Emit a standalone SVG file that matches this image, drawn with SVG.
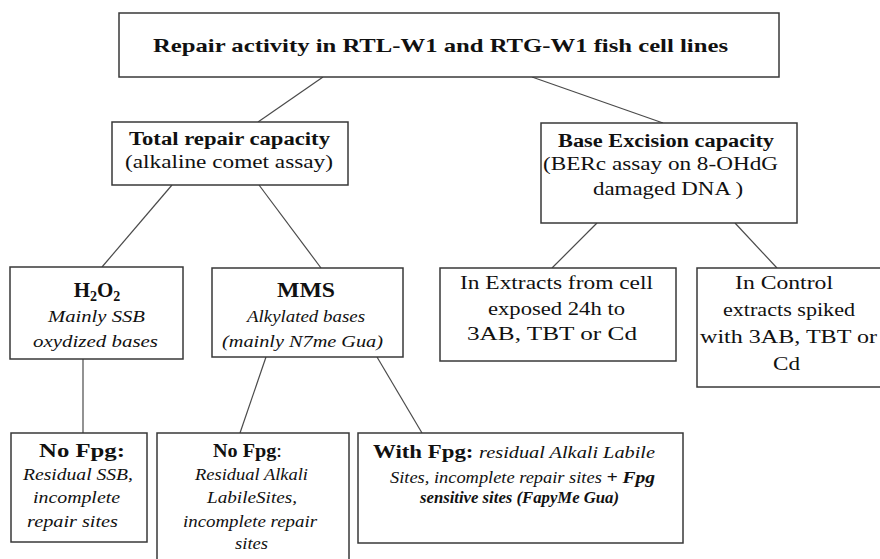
<svg xmlns="http://www.w3.org/2000/svg" width="880" height="559" viewBox="0 0 880 559">
  <style>
    .box { fill: #ffffff; stroke: #383838; stroke-width: 1.5; }
    .link { stroke: #4a4a4a; stroke-width: 1.2; fill: none; }
    text { font-family: "Liberation Serif", "Times New Roman", serif; fill: #111; text-anchor: middle; }
    .b { font-weight: bold; }
    .i { font-style: italic; }
    .t19 { font-size: 19px; }
    .t18 { font-size: 18px; }
    .t17 { font-size: 17px; }
    .t16 { font-size: 16px; }
  </style>
  <rect width="880" height="559" fill="#ffffff"/>

  <!-- tree connectors -->
  <g id="connectors">
    <line class="link" x1="323" y1="77" x2="258" y2="122"/>
    <line class="link" x1="532" y1="77" x2="663" y2="123"/>
    <line class="link" x1="172" y1="185" x2="102" y2="267"/>
    <line class="link" x1="259" y1="185" x2="321" y2="268"/>
    <line class="link" x1="597" y1="223" x2="552" y2="268"/>
    <line class="link" x1="735" y1="223" x2="777" y2="268"/>
    <line class="link" x1="83" y1="359" x2="83" y2="433"/>
    <line class="link" x1="266" y1="357" x2="240" y2="433"/>
    <line class="link" x1="377" y1="357" x2="422" y2="433"/>
  </g>

  <g id="root">
    <rect class="box" x="119" y="13" width="660" height="64"/>
    <text class="b t19" x="440.5" y="52" textLength="575" lengthAdjust="spacingAndGlyphs">Repair activity in RTL-W1 and RTG-W1 fish cell lines</text>
  </g>

  <g id="total-repair">
    <rect class="box" x="112" y="122" width="236" height="63"/>
    <text class="b t18" x="229.5" y="145" textLength="201" lengthAdjust="spacingAndGlyphs">Total repair capacity</text>
    <text class="t18" x="229" y="168" textLength="208" lengthAdjust="spacingAndGlyphs">(alkaline  comet assay)</text>
  </g>

  <g id="base-excision">
    <rect class="box" x="541" y="123" width="256" height="100"/>
    <text class="b t18" x="666" y="147" textLength="216" lengthAdjust="spacingAndGlyphs">Base Excision capacity</text>
    <text class="t18" x="660.5" y="170" textLength="235" lengthAdjust="spacingAndGlyphs">(BERc assay on 8-OHdG</text>
    <text class="t18" x="668" y="195" textLength="150" lengthAdjust="spacingAndGlyphs">damaged DNA )</text>
  </g>

  <g id="h2o2">
    <rect class="box" x="10" y="267" width="173" height="92"/>
    <text class="b" x="97" y="297" font-size="21">H<tspan font-size="14" dy="4">2</tspan><tspan dy="-4">O</tspan><tspan font-size="14" dy="4">2</tspan></text>
    <text class="i t17" x="96.5" y="322" textLength="97" lengthAdjust="spacingAndGlyphs">Mainly SSB</text>
    <text class="i t17" x="95.5" y="347" textLength="125" lengthAdjust="spacingAndGlyphs">oxydized bases</text>
  </g>

  <g id="mms">
    <rect class="box" x="212" y="268" width="191" height="89"/>
    <text class="b" x="306" y="297" font-size="21" textLength="58" lengthAdjust="spacingAndGlyphs">MMS</text>
    <text class="i t17" x="306" y="322" textLength="118" lengthAdjust="spacingAndGlyphs">Alkylated bases</text>
    <text class="i t17" x="302.5" y="347" textLength="161" lengthAdjust="spacingAndGlyphs">(mainly N7me Gua)</text>
  </g>

  <g id="in-extracts">
    <rect class="box" x="440" y="268" width="236" height="93"/>
    <text class="t18" x="556.5" y="289" textLength="193" lengthAdjust="spacingAndGlyphs">In Extracts from  cell</text>
    <text class="t18" x="556.5" y="315" textLength="137" lengthAdjust="spacingAndGlyphs">exposed 24h to</text>
    <text class="t18" x="552" y="340" textLength="170" lengthAdjust="spacingAndGlyphs">3AB, TBT or Cd</text>
  </g>

  <g id="in-control">
    <rect class="box" x="697" y="268" width="190" height="119"/>
    <text class="t18" x="784" y="289" textLength="98" lengthAdjust="spacingAndGlyphs">In Control</text>
    <text class="t18" x="789" y="316" textLength="132" lengthAdjust="spacingAndGlyphs">extracts spiked</text>
    <text class="t18" x="788.5" y="343" textLength="177" lengthAdjust="spacingAndGlyphs">with 3AB, TBT or</text>
    <text class="t18" x="786.5" y="370" textLength="27" lengthAdjust="spacingAndGlyphs">Cd</text>
  </g>

  <g id="no-fpg-ssb">
    <rect class="box" x="11" y="433" width="136" height="109"/>
    <text class="b t18" x="82" y="457" textLength="86" lengthAdjust="spacingAndGlyphs">No Fpg:</text>
    <text class="i t16" x="78" y="480" textLength="110" lengthAdjust="spacingAndGlyphs">Residual SSB,</text>
    <text class="i t16" x="76.5" y="503" textLength="87" lengthAdjust="spacingAndGlyphs">incomplete</text>
    <text class="i t16" x="72.5" y="527" textLength="91" lengthAdjust="spacingAndGlyphs">repair sites</text>
  </g>

  <g id="no-fpg-als">
    <rect class="box" x="157" y="433" width="192" height="140"/>
    <text class="t18" x="247.5" y="457" textLength="69" lengthAdjust="spacingAndGlyphs"><tspan class="b">No Fpg</tspan>:</text>
    <text class="i t16" x="251.5" y="480" textLength="113" lengthAdjust="spacingAndGlyphs">Residual Alkali</text>
    <text class="i t16" x="252" y="503" textLength="90" lengthAdjust="spacingAndGlyphs">LabileSites,</text>
    <text class="i t16" x="250" y="527" textLength="134" lengthAdjust="spacingAndGlyphs">incomplete repair</text>
    <text class="i t16" x="251.5" y="549" textLength="33" lengthAdjust="spacingAndGlyphs">sites</text>
  </g>

  <g id="with-fpg">
    <rect class="box" x="358" y="433" width="325" height="110"/>
    <text x="514" y="458" textLength="282" lengthAdjust="spacingAndGlyphs"><tspan class="b t18">With Fpg: </tspan><tspan class="i t16">residual Alkali  Labile</tspan></text>
    <text x="522.5" y="483" textLength="265" lengthAdjust="spacingAndGlyphs"><tspan class="i t16">Sites, incomplete  repair sites </tspan><tspan class="b i t17">+ Fpg</tspan></text>
    <text class="b i t16" x="519.5" y="503" textLength="199" lengthAdjust="spacingAndGlyphs">sensitive sites  (FapyMe Gua)</text>
  </g>
</svg>
